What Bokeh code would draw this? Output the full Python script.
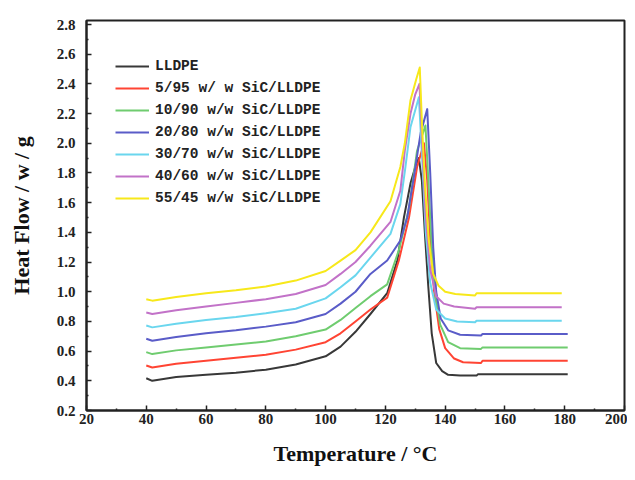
from bokeh.plotting import figure
from bokeh.models import FixedTicker, Range1d
from bokeh.embed import file_html
from bokeh.resources import INLINE

# ---- data ----
series_names = ["LLDPE", "5/95 w/ w SiC/LLDPE", "10/90 w/w SiC/LLDPE", "20/80 w/w SiC/LLDPE",
                "30/70 w/w SiC/LLDPE", "40/60 w/w SiC/LLDPE", "55/45 w/w SiC/LLDPE"]
series_colors = ["#383838", "#ff4433", "#6fcc6f", "#5a5cc8", "#6ad6ee", "#c272c8", "#f7e81a"]

base_x = [40, 42, 50, 60, 70, 80, 90, 100, 105, 110, 115]

lldpe_x = base_x + [120.6, 124, 126.2, 128.4, 130.3, 131.2, 132.2, 133.2, 134.3, 135.5, 137, 139, 141, 145, 150.5, 151, 181]
lldpe_y = [0.417, 0.40, 0.425, 0.44, 0.455, 0.475, 0.51, 0.565, 0.63, 0.73, 0.85,
           0.99, 1.21, 1.50, 1.73, 1.86, 1.90, 1.75, 1.40, 1.05, 0.72, 0.52, 0.465, 0.44, 0.435, 0.435, 0.445, 0.445]

s5_x = base_x + [120.6, 124.5, 127.9, 130.6, 132.9, 134, 135, 136.3, 138, 140, 143, 146, 152, 152.5, 181]
s5_y = [0.503, 0.49, 0.515, 0.535, 0.555, 0.575, 0.61, 0.66, 0.72, 0.80, 0.88,
        0.96, 1.21, 1.50, 1.84, 2.00, 1.75, 1.35, 1.00, 0.75, 0.62, 0.55, 0.525, 0.52, 0.535, 0.535]

s10_x = base_x + [120.6, 124.5, 127.8, 130.6, 133.4, 134.5, 135.5, 136.7, 138.3, 141, 145, 152, 152.5, 181]
s10_y = [0.593, 0.58, 0.605, 0.625, 0.645, 0.665, 0.70, 0.745, 0.81, 0.89, 0.97,
         1.05, 1.28, 1.55, 1.95, 2.12, 1.70, 1.30, 0.98, 0.78, 0.66, 0.62, 0.615, 0.625, 0.625]

s20_x = base_x + [120.6, 125, 127.3, 129.5, 131.8, 134, 135, 136, 137, 138.5, 141, 145, 152, 152.5, 181]
s20_y = [0.683, 0.67, 0.695, 0.72, 0.74, 0.765, 0.795, 0.85, 0.92, 1.00, 1.12,
         1.21, 1.345, 1.50, 1.77, 2.07, 2.23, 1.80, 1.30, 1.00, 0.82, 0.74, 0.71, 0.705, 0.715, 0.715]

s30_x = base_x + [121.7, 125, 126.7, 128.4, 131.2, 132.3, 133.5, 135, 137, 140, 144, 150, 150.5, 179]
s30_y = [0.772, 0.76, 0.785, 0.81, 0.83, 0.855, 0.885, 0.955, 1.03, 1.11, 1.23,
         1.39, 1.59, 1.84, 2.11, 2.31, 1.90, 1.40, 1.06, 0.88, 0.82, 0.80, 0.795, 0.805, 0.805]

s40_x = base_x + [121.7, 125, 126.5, 128.4, 130, 131.4, 132.3, 133.5, 135, 137, 139.5, 143, 150, 150.5, 179]
s40_y = [0.86, 0.85, 0.875, 0.90, 0.925, 0.95, 0.985, 1.045, 1.12, 1.20, 1.31,
         1.47, 1.68, 1.95, 2.20, 2.33, 2.40, 2.00, 1.50, 1.15, 0.97, 0.92, 0.90, 0.885, 0.895, 0.895]

s55_x = base_x + [121.7, 125, 126.5, 128.4, 130.3, 131.5, 132.3, 133.3, 134.5, 136, 137.8, 140, 143.4, 150, 150.5, 179]
s55_y = [0.95, 0.94, 0.965, 0.99, 1.01, 1.035, 1.075, 1.14, 1.21, 1.28, 1.40,
         1.61, 1.84, 2.00, 2.29, 2.43, 2.51, 2.10, 1.70, 1.35, 1.12, 1.04, 1.00, 0.985, 0.975, 0.99, 0.99]

all_x = [lldpe_x, s5_x, s10_x, s20_x, s30_x, s40_x, s55_x]
all_y = [lldpe_y, s5_y, s10_y, s20_y, s30_y, s40_y, s55_y]

x_ticks = [20, 40, 60, 80, 100, 120, 140, 160, 180, 200]
x_minor = [30, 50, 70, 90, 110, 130, 150, 170, 190]
y_ticks = [0.2, 0.4, 0.6, 0.8, 1.0, 1.2, 1.4, 1.6, 1.8, 2.0, 2.2, 2.4, 2.6, 2.8]
y_minor = [0.3, 0.5, 0.7, 0.9, 1.1, 1.3, 1.5, 1.7, 1.9, 2.1, 2.3, 2.5, 2.7]
y_label_text = "Heat Flow / w / g"
x_label_text = "Temperature / \u00b0C"

# ---- figure ----
p = figure(width=627, height=472, output_backend="svg", toolbar_location=None,
           x_range=Range1d(20, 200), y_range=Range1d(0.2, 2.827),
           min_border_left=86, min_border_right=3, min_border_top=20, min_border_bottom=62)
p.grid.visible = False
p.outline_line_color = "#222222"
p.outline_line_width = 2
p.background_fill_color = "white"
p.border_fill_color = "white"

for xs, ys, name, col in zip(all_x, all_y, series_names, series_colors):
    p.line(xs, ys, line_color=col, line_width=2, legend_label=name, line_join="round")

serif = "Liberation Serif"
for ax, ticks, minors in ((p.xaxis[0], x_ticks, x_minor), (p.yaxis[0], y_ticks, y_minor)):
    ax.ticker = FixedTicker(ticks=ticks, minor_ticks=minors)
    ax.axis_line_color = "#222222"
    ax.axis_line_width = 2
    ax.major_tick_line_color = "#222222"
    ax.minor_tick_line_color = "#222222"
    ax.major_tick_line_width = 1.5
    ax.minor_tick_line_width = 1.5
    ax.major_tick_in = 5
    ax.major_tick_out = 0
    ax.minor_tick_in = 2
    ax.minor_tick_out = 0
    ax.major_label_text_font = serif
    ax.major_label_text_font_style = "bold"
    ax.major_label_text_font_size = "15px"
    ax.major_label_text_color = "#222222"
    ax.axis_label_text_font = serif
    ax.axis_label_text_font_style = "bold"
    ax.axis_label_text_font_size = "22px"
    ax.axis_label_text_color = "#111111"

p.yaxis[0].major_label_overrides = {t: f"{t:.1f}" for t in y_ticks}
p.yaxis[0].major_label_standoff = 11
p.xaxis[0].major_label_standoff = 3
p.yaxis[0].axis_label = y_label_text
p.xaxis[0].axis_label = x_label_text
p.yaxis[0].axis_label_standoff = 20
p.xaxis[0].axis_label_standoff = 14

lg = p.legend[0]
lg.location = (29, 204)
lg.padding = 0
lg.margin = 0
lg.spacing = 6
lg.glyph_width = 34
lg.glyph_height = 16
lg.label_height = 16
lg.label_standoff = 6
lg.border_line_color = None
lg.background_fill_alpha = 0
lg.label_text_font = "Liberation Mono"
lg.label_text_font_style = "bold"
lg.label_text_font_size = "14.5px"
lg.label_text_color = "#222222"

open("out.html", "w").write(file_html(p, INLINE))
